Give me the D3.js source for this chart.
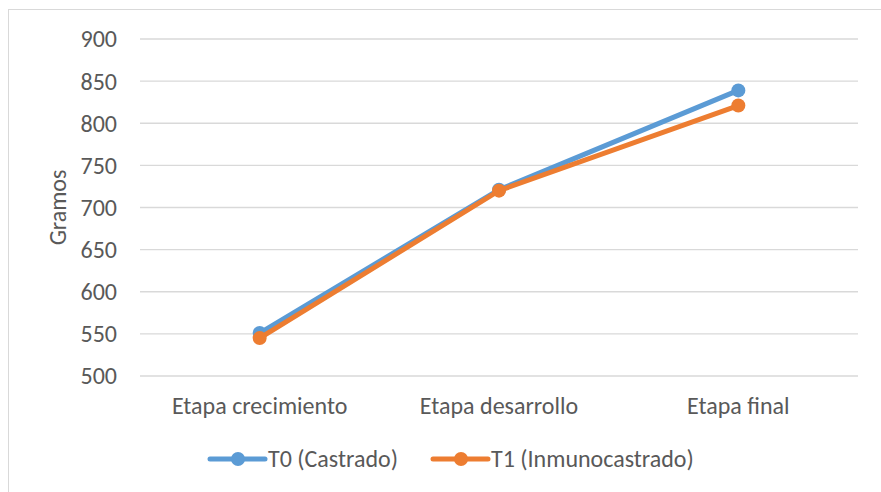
<!DOCTYPE html>
<html>
<head>
<meta charset="utf-8">
<script src="https://cdn.jsdelivr.net/npm/d3@7"></script>
<style>
body { margin: 0; background: #fff; overflow: hidden; }
text { font-family: Carlito, "Open Sans", "Liberation Sans", sans-serif; fill: #595959; }
</style>
</head>
<body>
<div id="chart"></div>
<script>
var categories = ["Etapa crecimiento", "Etapa desarrollo", "Etapa final"];
var seriesNames = ["T0 (Castrado)", "T1 (Inmunocastrado)"];
var t0 = [551, 721, 839];
var t1 = [545, 720, 821];
var yTicks = [500, 550, 600, 650, 700, 750, 800, 850, 900];
var colors = ["#5b9bd5", "#ed7d31"];

var width = 881, height = 492;
var plotLeft = 140, plotRight = 858, plotTop = 39, plotBottom = 376;

var svg = d3.select("#chart").append("svg")
	.attr("width", width)
	.attr("height", height)
	.style("display", "block");

svg.append("rect")
	.attr("x", 8.5).attr("y", 9.5)
	.attr("width", 880).attr("height", 490)
	.style("fill", "none")
	.style("stroke", "#d9d9d9");

var x = d3.scaleBand().domain(categories).range([plotLeft, plotRight]);
var y = d3.scaleLinear().domain([500, 900]).range([plotBottom, plotTop]);

// gridlines
svg.selectAll(".grid")
	.data(yTicks)
	.enter().append("line")
	.attr("x1", plotLeft).attr("x2", plotRight)
	.attr("y1", function (d) { return y(d); })
	.attr("y2", function (d) { return y(d); })
	.style("stroke", "#d9d9d9")
	.style("stroke-width", 1.3);

// y tick labels
svg.selectAll(".ylab")
	.data(yTicks)
	.enter().append("text")
	.attr("x", 117)
	.attr("y", function (d) { return y(d); })
	.attr("dy", "0.35em")
	.attr("text-anchor", "end")
	.style("font-size", "24px")
	.text(function (d) { return d; });

// x labels
svg.selectAll(".xlab")
	.data(categories)
	.enter().append("text")
	.attr("x", function (d) { return x(d) + x.bandwidth() / 2; })
	.attr("y", 414)
	.attr("text-anchor", "middle")
	.style("font-size", "24px")
	.text(function (d) { return d; });

svg.append("text")
	.attr("transform", "translate(66," + ((plotTop + plotBottom) / 2) + ") rotate(-90)")
	.attr("text-anchor", "middle")
	.style("font-size", "24px")
	.text("Gramos");

var line = d3.line()
	.x(function (d, i) { return x(categories[i]) + x.bandwidth() / 2; })
	.y(function (d) { return y(d); });

[t0, t1].forEach(function (vals, s) {
	svg.append("path")
		.datum(vals)
		.attr("d", line)
		.style("fill", "none")
		.style("stroke", colors[s])
		.style("stroke-width", 5)
		.style("stroke-linecap", "round");
	svg.selectAll(".pt" + s)
		.data(vals)
		.enter().append("circle")
		.attr("cx", function (d, i) { return x(categories[i]) + x.bandwidth() / 2; })
		.attr("cy", function (d) { return y(d); })
		.attr("r", 7)
		.style("fill", colors[s]);
});

// legend
var legX = [210, 433];
seriesNames.forEach(function (name, s) {
	var g = svg.append("g").attr("transform", "translate(" + legX[s] + ",459)");
	g.append("line")
		.attr("x1", 0).attr("x2", 55)
		.style("stroke", colors[s])
		.style("stroke-width", 5)
		.style("stroke-linecap", "round");
	g.append("circle").attr("cx", 28).attr("r", 7).style("fill", colors[s]);
	g.append("text")
		.attr("x", 58)
		.attr("dy", "0.35em")
		.style("font-size", "24px")
		.text(name);
});
</script>
</body>
</html>
